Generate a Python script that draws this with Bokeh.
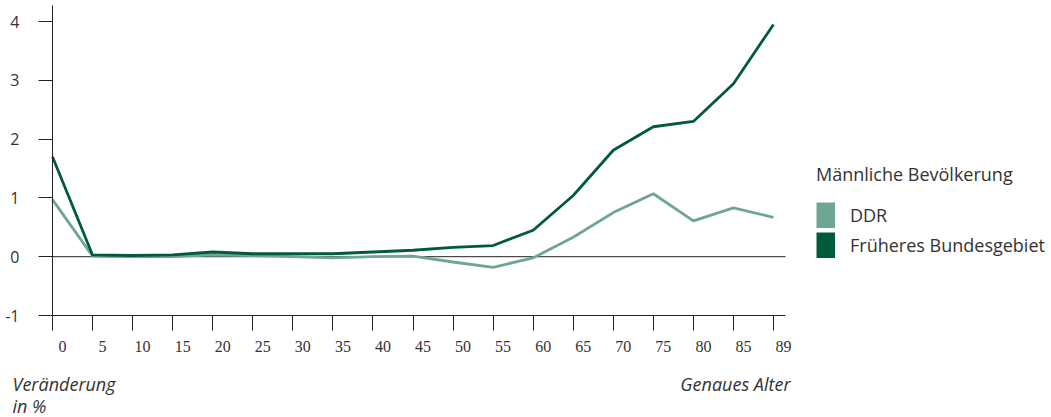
from bokeh.plotting import figure
from bokeh.models import (Range1d, FixedTicker, Legend, LegendItem,
                          LabelSet, Label, ColumnDataSource)
from bokeh.embed import file_html
from bokeh.resources import INLINE

# ---- data ----
ages = ["0", "5", "10", "15", "20", "25", "30", "35", "40", "45",
        "50", "55", "60", "65", "70", "75", "80", "85", "89"]
ddr = [0.97, 0.01, 0.00, 0.00, 0.03, 0.02, 0.00, -0.02, 0.00, 0.01,
       -0.09, -0.18, -0.02, 0.33, 0.75, 1.07, 0.61, 0.83, 0.67]
bund = [1.70, 0.03, 0.02, 0.03, 0.08, 0.05, 0.05, 0.05, 0.08, 0.11,
        0.16, 0.19, 0.45, 1.04, 1.81, 2.21, 2.30, 2.94, 3.95]
y_ticks = [-1, 0, 1, 2, 3, 4]
y_tick_labels = ["-1", "0", "1", "2", "3", "4"]
legend_title = "Männliche Bevölkerung"
series_names = ["DDR", "Früheres Bundesgebiet"]
y_title = ["Veränderung", "in %"]
x_title = "Genaues Alter"

# ---- style / layout ----
LIGHT = "#6fa594"
DARK = "#005a3c"
TXT = "#333333"
AX = "#222222"
FONT = "Open Sans"
W, H = 1051, 417
# pixel placement of the plotting area inside the canvas
PX_X0, PX_X1 = 52, 773      # x of first and last category
PX_YTOP, PX_YBOT = 21, 315  # y of top tick (4) and bottom tick (-1)

n = len(ages)
idx = list(range(n))
xs = (PX_X1 - PX_X0) / (n - 1)
ys = (PX_YBOT - PX_YTOP) / (y_ticks[-1] - y_ticks[0])
x_range = Range1d(-PX_X0 / xs, (W - PX_X0) / xs)
y_range = Range1d(y_ticks[0] - (H - PX_YBOT) / ys, y_ticks[-1] + PX_YTOP / ys)
x_axis_end = (n - 1) + 0.3
y_axis_end = y_ticks[-1] + 0.27

p = figure(width=W, height=H, output_backend="svg", toolbar_location=None,
           x_range=x_range, y_range=y_range,
           min_border_left=0, min_border_top=0, min_border_bottom=0,
           min_border_right=0)
p.outline_line_color = None
p.grid.visible = False
p.background_fill_color = "white"
p.border_fill_color = "white"

# axes drawn at fixed data locations
xa = p.xaxis[0]
xa.fixed_location = y_ticks[0]
xa.bounds = (0, x_axis_end)
xa.ticker = FixedTicker(ticks=idx)
xa.major_label_overrides = {i: "" for i in idx}
xa.major_tick_in = 0
xa.major_tick_out = 15
xa.minor_tick_line_color = None
xa.axis_line_color = AX
xa.major_tick_line_color = AX

ya = p.yaxis[0]
ya.fixed_location = 0
ya.bounds = (y_ticks[0], y_axis_end)
ya.ticker = FixedTicker(ticks=y_ticks)
ya.major_label_overrides = dict(zip(y_ticks, y_tick_labels))
ya.major_tick_in = 0
ya.major_tick_out = 14
ya.minor_tick_line_color = None
ya.major_label_standoff = 19
ya.major_label_text_font = FONT
ya.major_label_text_font_size = "16px"
ya.major_label_text_color = TXT
ya.axis_line_color = AX
ya.major_tick_line_color = AX

# zero line
p.segment(x0=[0], x1=[x_axis_end], y0=[0], y1=[0], line_color=AX, line_width=1)

src = ColumnDataSource(dict(x=idx, ddr=ddr, bund=bund, lab=ages, ybase=[y_ticks[0]] * n))
p.line("x", "ddr", source=src, line_color=LIGHT, line_width=2.8)
p.line("x", "bund", source=src, line_color=DARK, line_width=2.8)

# x tick labels
p.add_layout(LabelSet(x="x", y="ybase", text="lab", source=src, x_offset=10, y_offset=-31,
                      text_align="center", text_baseline="middle", text_font=FONT,
                      text_font_size="16px", text_color=TXT))

# axis titles
p.add_layout(Label(x=0, y=y_ticks[0], x_offset=-40, y_offset=-68, text=y_title[0],
                   text_align="left", text_baseline="middle", text_font=FONT,
                   text_font_style="italic", text_font_size="18px", text_color=TXT))
p.add_layout(Label(x=0, y=y_ticks[0], x_offset=-40, y_offset=-90, text=y_title[1],
                   text_align="left", text_baseline="middle", text_font=FONT,
                   text_font_style="italic", text_font_size="18px", text_color=TXT))
p.add_layout(Label(x=n - 1, y=y_ticks[0], x_offset=17, y_offset=-68, text=x_title,
                   text_align="right", text_baseline="middle", text_font=FONT,
                   text_font_style="italic", text_font_size="18px", text_color=TXT))

# legend swatches (hidden wide-line renderers of the series)
r1 = p.line("x", "ddr", source=src, line_color=LIGHT, line_width=26, line_cap="butt", visible=False)
r2 = p.line("x", "bund", source=src, line_color=DARK, line_width=26, line_cap="butt", visible=False)
legend = Legend(items=[LegendItem(label=series_names[0], renderers=[r1]),
                       LegendItem(label=series_names[1], renderers=[r2])],
                title=legend_title, location=(816, H - 258), padding=0, margin=0,
                border_line_color=None, background_fill_alpha=0,
                inactive_fill_alpha=0, click_policy="none",
                glyph_width=19, glyph_height=26, spacing=4, label_standoff=15,
                title_standoff=16, label_text_font=FONT, label_text_font_size="18px",
                label_text_color=TXT, title_text_font=FONT, title_text_font_size="18px",
                title_text_font_style="normal", title_text_color=TXT)
p.add_layout(legend)

open("out.html", "w").write(file_html(p, INLINE))
